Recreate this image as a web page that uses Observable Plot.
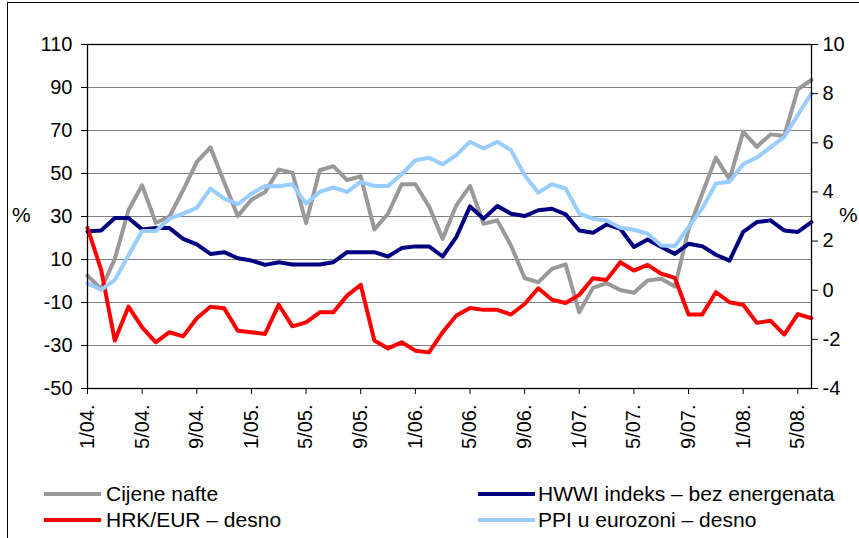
<!DOCTYPE html>
<html>
<head>
<meta charset="utf-8">
<script src="https://cdn.jsdelivr.net/npm/d3@7"></script>
<script src="https://cdn.jsdelivr.net/npm/@observablehq/plot@0.6"></script>
<style>
html,body{margin:0;padding:0;background:#fff;overflow:hidden;}
#wrap{position:relative;width:859px;height:538px;overflow:hidden;font-family:"Liberation Sans",Arial,sans-serif;color:#000;}
#frame{position:absolute;left:7px;top:2px;width:900px;height:600px;border:1px solid #000;box-sizing:border-box;}
#chart{position:absolute;left:0;top:0;}
.pct{position:absolute;font-size:21px;line-height:24px;}
.leg{position:absolute;font-size:21px;line-height:24px;white-space:nowrap;}
.leg .sw{position:absolute;top:10px;height:4px;}
.leg .tx{position:absolute;top:0;}
</style>
</head>
<body>
<div id="wrap">
  <div id="frame"></div>
  <div id="chart"></div>
  <div class="pct" style="left:12px;top:203px;">%</div>
  <div class="pct" style="left:839px;top:203px;">%</div>
  <div id="legend"></div>
</div>
<script>
const months = ["1/04.","2/04.","3/04.","4/04.","5/04.","6/04.","7/04.","8/04.","9/04.","10/04.","11/04.","12/04.",
"1/05.","2/05.","3/05.","4/05.","5/05.","6/05.","7/05.","8/05.","9/05.","10/05.","11/05.","12/05.",
"1/06.","2/06.","3/06.","4/06.","5/06.","6/06.","7/06.","8/06.","9/06.","10/06.","11/06.","12/06.",
"1/07.","2/07.","3/07.","4/07.","5/07.","6/07.","7/07.","8/07.","9/07.","10/07.","11/07.","12/07.",
"1/08.","2/08.","3/08.","4/08.","5/08.","6/08."];

// Cijene nafte (left axis, %)
const oil = [2.5,-3.7,10.3,32.9,44.5,27,30,42.2,55.4,62.1,
  46,30.2,37.8,41.4,51.8,50.4,27,51.5,53.4,46.9,
  48.7,24,31.3,45,45,34.7,19.6,35.2,44.2,26.6,
  28.2,16.5,1.4,-0.6,5.6,7.7,-14.6,-3.2,-1.0,-4.2,
  -5.5,0.2,1,-2.6,24,40.6,57.4,47.2,69.4,62.4,
  68.2,67.4,89.2,93.5];
// HWWI indeks – bez energenata (left axis, %)
const hwwi = [23.1,23.5,29.3,29.3,24,24.6,24.6,19.6,17,12.6,
  13.4,10.6,9.5,7.5,8.75,7.7,7.7,7.7,8.75,13.4,
  13.4,13.4,11.4,15.3,16.1,16.1,11.4,20.4,34.7,29,
  34.9,31.3,30.2,32.9,33.6,31,23.5,22.4,26.3,24.3,
  15.8,19.3,15.8,12.6,17.3,16.2,12.2,9.5,22.8,27.4,
  28.2,23.5,22.8,27.4];
// HRK/EUR – desno (right axis, %)
const hrk = [2.54,0.83,-2.05,-0.67,-1.51,-2.12,-1.71,-1.88,-1.14,-0.67,
  -0.73,-1.65,-1.71,-1.78,-0.59,-1.47,-1.31,-0.9,-0.9,-0.22,
  0.22,-2.05,-2.37,-2.12,-2.46,-2.53,-1.71,-1.03,-0.72,-0.8,
  -0.8,-0.99,-0.56,0.08,-0.39,-0.52,-0.19,0.49,0.42,1.14,
  0.8,1.03,0.67,0.5,-0.99,-0.99,-0.08,-0.49,-0.59,-1.33,
  -1.24,-1.81,-0.97,-1.14];
// PPI u eurozoni – desno (right axis, %)
const ppi = [0.29,0.01,0.42,1.42,2.41,2.41,2.91,3.12,3.35,4.14,
  3.73,3.5,3.93,4.24,4.23,4.31,3.52,4.0,4.18,4.0,
  4.41,4.24,4.24,4.72,5.29,5.39,5.12,5.5,6.04,5.77,
  6.04,5.7,4.68,3.97,4.31,4.14,3.12,2.91,2.84,2.54,
  2.46,2.3,1.82,1.8,2.57,3.32,4.34,4.41,5.13,5.4,
  5.81,6.24,7.13,8.01];

const leftTicks = [-50,-30,-10,10,30,50,70,90,110];
const rightTicks = [-4,-2,0,2,4,6,8,10];
const xTickLabels = ["1/04.","5/04.","9/04.","1/05.","5/05.","9/05.","1/06.","5/06.","9/06.","1/07.","5/07.","9/07.","1/08.","5/08."];

const seriesNames = ["Cijene nafte","HWWI indeks – bez energenata","HRK/EUR – desno","PPI u eurozoni – desno"];
const seriesColors = ["#999999","#000080","#ff0000","#99ccff"];

// map right-axis values onto the left-axis scale
const L0=-50, L1=110, R0=-4, R1=10;
const toL = r => L0 + (r - R0) * (L1 - L0) / (R1 - R0);
const toR = v => R0 + (v - L0) * (R1 - R0) / (L1 - L0);

const data = months.map((m,i)=>({i, m, oil:oil[i], hwwi:hwwi[i], hrk:toL(hrk[i]), ppi:toL(ppi[i])}));
const xTicks = xTickLabels.map(l => months.indexOf(l));

const chart = Plot.plot({
  width: 859, height: 470,
  marginLeft: 87, marginRight: 48, marginTop: 44, marginBottom: 82,
  style: {fontFamily: "'Liberation Sans', Arial, sans-serif", fontSize: "20px", color: "#000", background: "transparent", overflow: "visible"},
  x: {domain: [0, months.length - 1], label: null},
  y: {domain: [L0, L1], label: null},
  marks: [
    Plot.ruleY(leftTicks.filter(v => v > L0 && v < L1), {stroke: "#808080", strokeWidth: 1}),
    Plot.line(data, {x: "i", y: "oil", stroke: seriesColors[0], strokeWidth: 4, strokeLinejoin: "round"}),
    Plot.line(data, {x: "i", y: "hwwi", stroke: seriesColors[1], strokeWidth: 4, strokeLinejoin: "round"}),
    Plot.line(data, {x: "i", y: "hrk", stroke: seriesColors[2], strokeWidth: 4, strokeLinejoin: "round"}),
    Plot.line(data, {x: "i", y: "ppi", stroke: seriesColors[3], strokeWidth: 4, strokeLinejoin: "round"}),
    Plot.frame({stroke: "#000", strokeWidth: 1.3}),
    Plot.axisY(leftTicks, {anchor: "left", tickSize: 6, tickPadding: 9, stroke: "#000", fill: "#000", tickFormat: d => String(d), label: null}),
    Plot.axisY(rightTicks.map(toL), {anchor: "right", tickSize: 6, tickPadding: 5, stroke: "#000", fill: "#000", tickFormat: v => String(Math.round(toR(v))), label: null}),
    Plot.axisX(xTicks, {anchor: "bottom", tickSize: 6, tickPadding: 10, tickRotate: -90, stroke: "#000", fill: "#000", tickFormat: i => months[i], label: null})
  ]
});
document.getElementById("chart").appendChild(chart);

// legend
const legPos = [[44,482],[478,482],[44,508],[478,508]];
const legend = document.getElementById("legend");
seriesNames.forEach((n,k)=>{
  const d = document.createElement("div");
  d.className = "leg";
  d.style.left = legPos[k][0] + "px";
  d.style.top = legPos[k][1] + "px";
  d.innerHTML = `<div class="sw" style="left:0;width:57px;background:${seriesColors[k]}"></div><div class="tx" style="left:${k%2===0?62:60}px">${n}</div>`;
  legend.appendChild(d);
});
</script>
</body>
</html>
